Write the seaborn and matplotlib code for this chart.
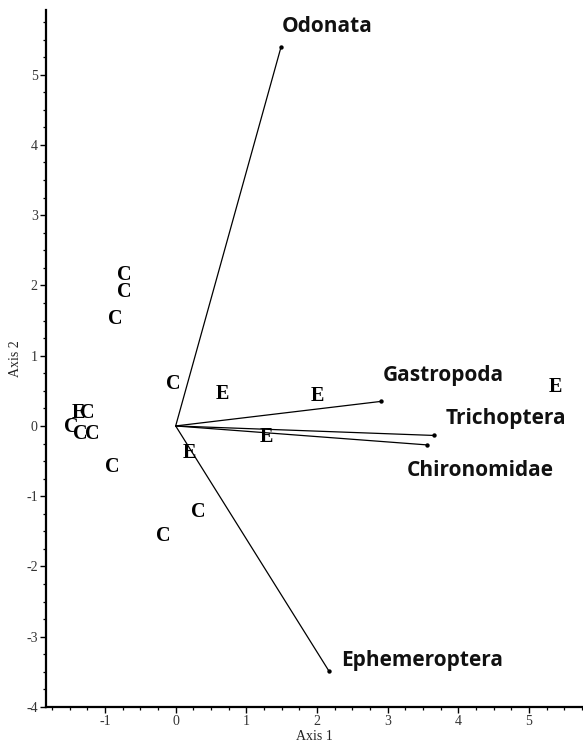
import matplotlib
matplotlib.use("Agg")
import matplotlib.pyplot as plt
from matplotlib.ticker import MultipleLocator
import seaborn as sns
import pandas as pd

# ---- data ----
site_x = [-0.73, -0.73, -0.86, -0.04, -0.89, -1.38, -1.25, -1.47, -1.35, -1.18,
          0.66, 2.01, 5.37, 0.19, 0.32, -0.17, 1.29]
site_y = [2.15, 1.90, 1.52, 0.60, -0.59, 0.19, 0.19, -0.01, -0.12, -0.12,
          0.46, 0.42, 0.55, -0.38, -1.23, -1.56, -0.16]
site_lab = ["C", "C", "C", "C", "C", "E", "C", "C", "C", "C",
            "E", "E", "E", "E", "C", "C", "E"]

taxa = ["Odonata", "Gastropoda", "Trichoptera", "Chironomidae", "Ephemeroptera"]
taxa_x = [1.49, 2.91, 3.65, 3.56, 2.17]
taxa_y = [5.39, 0.35, -0.135, -0.27, -3.49]

x_ticks = [-1, 0, 1, 2, 3, 4, 5]
y_ticks = [-4, -3, -2, -1, 0, 1, 2, 3, 4, 5]

# ---- style ----
sns.set_style("white")
plt.rcParams["font.family"] = ["Liberation Serif", "DejaVu Serif"]
plt.rcParams["axes.unicode_minus"] = False

fig = plt.figure(figsize=(5.83, 7.49), dpi=100)
ax = fig.add_axes([46 / 583, 1 - 707 / 749, (582 - 46) / 583, (707 - 10) / 749])

# vectors
for tx, ty in zip(taxa_x, taxa_y):
    ax.plot([0, tx], [0, ty], color="black", lw=0.9, zorder=2)
df_t = pd.DataFrame({"x": taxa_x, "y": taxa_y, "taxon": taxa})
sns.scatterplot(data=df_t, x="x", y="y", color="black", s=10, edgecolor="black",
                linewidth=0, ax=ax, zorder=3)

label_offsets = {
    "Odonata": (1, 21),
    "Gastropoda": (1, 26),
    "Trichoptera": (12, 17),
    "Chironomidae": (-20, -26),
    "Ephemeroptera": (12, 11),
}
for name, tx, ty in zip(taxa, taxa_x, taxa_y):
    dx, dy = label_offsets[name]
    ax.annotate(name, (tx, ty), xytext=(dx, dy), textcoords="offset pixels",
                ha="left", va="center", fontsize=15, fontweight="bold",
                family=["Open Sans", "DejaVu Sans"], color="#111111")

# site letters
for x, y, l in zip(site_x, site_y, site_lab):
    ax.text(x, y, l, ha="center", va="center", fontsize=14.5, fontweight="bold",
            family=["Liberation Serif"], color="black", zorder=4)

ax.set_xlim(-1.835, 5.75)
ax.set_ylim(-4, 5.92)
ax.set_xticks(x_ticks)
ax.set_yticks(y_ticks)
ax.xaxis.set_minor_locator(MultipleLocator(0.25))
ax.yaxis.set_minor_locator(MultipleLocator(0.25))
ax.tick_params(which="major", direction="out", length=4, width=1, color="black",
               labelsize=10, labelcolor="#333333", pad=2,
               bottom=True, left=True)
ax.tick_params(which="minor", direction="out", length=2.2, width=0.9, color="black",
               bottom=True, left=True)

for s in ["top", "right"]:
    ax.spines[s].set_visible(False)
for s in ["left", "bottom"]:
    ax.spines[s].set_color("black")
    ax.spines[s].set_linewidth(1.6)

ax.set_xlabel("Axis 1", fontsize=10, color="#222222", labelpad=1)
ax.set_ylabel("Axis 2", fontsize=10, color="#222222", labelpad=3)

fig.savefig("out.png", dpi=100)
